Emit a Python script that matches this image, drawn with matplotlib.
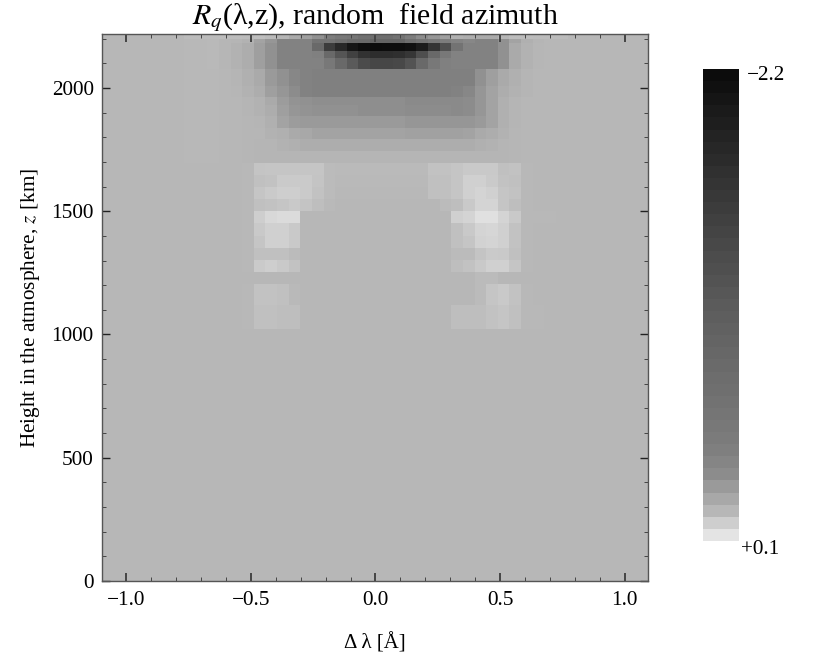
import matplotlib
matplotlib.use('Agg')
import matplotlib.pyplot as plt
import numpy as np
from matplotlib.colors import LinearSegmentedColormap
from matplotlib.ticker import MultipleLocator, FuncFormatter

plt.rcParams['font.family'] = ['Liberation Serif', 'DejaVu Serif']
plt.rcParams['mathtext.fontset'] = 'stix'

VMIN = -2.2
VMAX = 0.1
BACKGROUND = -0.02

# heights of the cell edges [km], top to bottom
z_edges = [2225, 2200, 2181, 2151, 2120, 2077, 2009, 1963, 1931, 1886, 1838, 1793, 1746,
           1694, 1646, 1599, 1550, 1501, 1451, 1400, 1352, 1302, 1252, 1204, 1120, 1022, 0]

# wavelength cell edges [A]
n_wave = 47
wave_start = -1.095
wave_step = 0.04665

# first column of the table below inside the wavelength grid
first_col = 7

# Rq in units of 0.01, one row per height cell from the top, 33 columns
rq_rows = [
    [-1.2, -1.2, -1.0, -0.7, -0.7, -1.2, -0.2, -1.4, -3, -7, -12, -18, -34, -45, -49, -62, -66, -66, -55, -34, -20, -16, -12, -5, -6, -7, -7, -3, -0.7, -0.7, -1.0, -1.2, -1.2],
    [-1.8, -1.8, -1.6, -2.5, -3, -4, -10, -16, -29, -29, -29, -55, -55, -66, -76, -76, -87, -87, -87, -66, -55, -45, -34, -29, -25, -29, -29, -18, -10, -5, -3, -2, -2],
    [-1.8, -1.8, -1.6, -2.5, -4, -6, -12, -18, -29, -29, -29, -76, -153, -183, -207, -217, -220, -219, -218, -215, -200, -165, -122, -55, -29, -29, -29, -18, -7, -4, -2.5, -2, -2],
    [-1.8, -1.8, -1.6, -2.5, -4, -6, -12, -18, -29, -29, -29, -31, -76, -114, -145, -168, -175, -175, -172, -162, -125, -76, -45, -29, -29, -29, -29, -18, -7, -4, -2.5, -2, -2],
    [-1.8, -1.8, -1.6, -2.5, -4, -6, -12, -18, -29, -29, -29, -29, -45, -76, -106, -130, -138, -138, -134, -118, -76, -45, -31, -29, -29, -29, -29, -18, -7, -4, -2.5, -2, -2],
    [-1.8, -1.8, -1.7, -2, -3, -5, -7, -14, -18, -25, -29] + [-31] * 14 + [-18, -12, -7, -5, -3, -2, -2, -2],
    [-1.8, -1.8, -1.7, -2, -2.5, -4, -6, -12, -16, -20, -29] + [-31] * 12 + [-29, -25, -16, -10, -6, -4, -3, -2, -2, -2],
    [-1.8, -1.8, -1.7, -2, -2, -3, -4, -7, -13, -17, -18] + [-19] * 8 + [-22] * 5 + [-20, -16, -10, -5, -3, -2, -2, -2, -2],
    [-1.8, -1.8, -1.7, -2, -2, -3, -4, -6, -12, -16, -17, -18, -18, -18, -18, -19, -19, -19, -19, -20, -20, -20, -20, -22, -20, -16, -10, -5, -3, -2, -2, -2, -2],
    [-1.8, -1.8, -1.7, -2, -2, -2.5, -3, -5, -10, -13] + [-14] * 9 + [-16] * 6 + [-14, -10, -5, -3, -2, -2, -2, -2],
    [-1.8, -1.8, -1.7, -2, -2, -2.5, -2.5, -4, -5, -7, -8] + [-10] * 8 + [-11] * 5 + [-10, -7, -6, -4, -2.5, -2, -2, -2, -2],
    [-1.9, -1.9, -1.8, -2, -2, -2.5, -3, -3, -4, -5] + [-6] * 15 + [-5, -4, -3, -2.5, -2, -2, -2, -2],
    [-1.9, -1.9, -1.9, -2, -2, -2.5] + [-3] * 22 + [-2.5, -2, -2, -2, -2],
    [-2, -2, -2, -2, -2, -1.8, 1.3, 1.9, 1.9, 1.9, 1.9, 1.9, -1.2] + [-1.4] * 8 + [1.0, 1.0, 1.9, 2.6, 2.6, 2.6, 0.3, 1.0, -1.8, -2, -2, -2],
    [-2, -2, -2, -2, -2, -1.8, 0.3, 1.0, 3.1, 3.1, 3.1, 1.3, -1.2] + [-1.6] * 8 + [0.3, 0.3, 1.9, 4.75, 4.75, 3.1, 1.0, 0.3, -1.8, -2, -2, -2],
    [-2, -2, -2, -2, -2, -1.8, 1.9, 3.1, 4.25, 4.25, 3.1, 1.0, -1.2] + [-1.8] * 8 + [0.3, 0.3, 1.9, 4.75, 5.75, 4.75, 1.9, 1.0, -1.8, -2, -2, -2],
    [-2, -2, -2, -2, -2, -1.8, 0.3, 1.0, 1.9, 2.6, 1.3, -0.2, -1.6] + [-2] * 9 + [-1.2, -0.2, 2.6, 5.75, 5.75, 1.9, -0.2, -1.8, -2, -2, -2],
    [-2, -2, -2, -2, -2, -1.8, 4.0, 6.75, 7.75, 7.75] + [-2] * 13 + [4.75, 5.75, 8.75, 8.75, 5.75, 2.6, -1.8, -1.9, -1.9, -2],
    [-2, -2, -2, -2, -2, -1.8, 2.6, 4.75, 4.75, 2.6] + [-2] * 13 + [0.3, 2.6, 5.75, 6.25, 4.75, 1.0, -1.8, -2, -2, -2],
    [-2, -2, -2, -2, -2, -1.8, 1.9, 4.75, 4.75, 2.6] + [-2] * 13 + [0.3, 1.9, 5.25, 5.75, 4.75, 1.0, -1.8, -2, -2, -2],
    [-2, -2, -2, -2, -2, -1.8, 0.3, 0.3, 0.3, -1.2] + [-2] * 13 + [-1.2, -1.2, 1.3, 3.1, 2.6, 0.3, -1.8, -2, -2, -2],
    [-2, -2, -2, -2, -2, -1.8, 3.1, 4.25, 2.6, 0.8] + [-2] * 13 + [-0.2, 0.8, 2.6, 4.75, 4.75, 1.9, -1.8, -2, -2, -2],
    [-2] * 25 + [-1.2, -1.2] + [-2] * 6,
    [-2, -2, -2, -2, -2, -1.9, 0.8, 0.8, 0.3, -1.6] + [-2] * 15 + [-1.2, 1.9, 2.6, 0.8, -1.9, -2, -2, -2],
    [-2, -2, -2, -2, -2, -1.9, 0.3, 0.3, -0.2, -0.2] + [-2] * 13 + [-0.2, -0.2, -0.2, 0.8, 1.9, 0.3, -1.9, -1.9, -2, -2],
]

# colour bar shades
bar_values = [-2.2, -1.9, -1.61, -1.3, -0.98, -0.55, -0.34, -0.2, -0.07, -0.02, 0.04, 0.1]
bar_grays = [12, 35, 55, 75, 95, 115, 125, 140, 170, 183, 205, 228]
n_bar = 39

x_major = [-1.0, -0.5, 0.0, 0.5, 1.0]
y_major = [0, 500, 1000, 1500, 2000]

stops = [((v - VMIN) / (VMAX - VMIN), str(g / 255)) for v, g in zip(bar_values, bar_grays)]
cmap = LinearSegmentedColormap.from_list('rq', stops, N=1024)

wave_edges = wave_start + wave_step * np.arange(n_wave + 1)
grid = np.full((len(z_edges) - 1, n_wave), BACKGROUND)
for i, row in enumerate(rq_rows):
    grid[i, first_col:first_col + len(row)] = np.array(row) / 100

fig = plt.figure(figsize=(8.30, 6.69), dpi=100)
W, H = 830, 669
ax = fig.add_axes([102 / W, (H - 581) / H, 546 / W, 547 / H])
ax.pcolormesh(wave_edges, z_edges, grid, cmap=cmap, vmin=VMIN, vmax=VMAX,
              shading='flat', rasterized=True)
ax.set_xlim(-1.098, 1.094)
ax.set_ylim(0, 2219)

ax.xaxis.set_major_formatter(FuncFormatter(lambda v, p: f"{v:.1f}".replace('-', '\u2212')))
ax.set_xticks(x_major)
ax.set_yticks(y_major)
ax.xaxis.set_minor_locator(MultipleLocator(0.1))
ax.yaxis.set_minor_locator(MultipleLocator(100))
ax.tick_params(axis='x', which='major', direction='in', top=True, bottom=True, length=6.0,
               width=1.4, color='#444444', labelsize=15.3, pad=7)
ax.tick_params(axis='y', which='major', direction='in', left=True, right=True, length=6.0,
               width=1.0, color='#222222', labelsize=15.3, pad=6)
ax.tick_params(axis='both', which='minor', direction='in', top=True, bottom=True, left=True,
               right=True, length=3.2, width=0.7, color='#444444')
for s in ax.spines.values():
    s.set_color('#555555')
    s.set_linewidth(1.0)

ax.set_title('$R_q$(\u03bb,z), random  field azimuth', fontsize=21.5, pad=6)
ax.set_xlabel('\u0394 \u03bb [\u00c5]', fontsize=15, labelpad=16.5)
ax.set_ylabel('Height in the atmosphere, $z$ [km]', fontsize=15.3, labelpad=7)

# colour bar, darkest step at the top
cax = fig.add_axes([703 / W, (H - 541) / H, 36 / W, 472 / H])
bar_levels = np.linspace(VMIN, VMAX, n_bar).reshape(-1, 1)
cax.pcolormesh([0, 1], np.arange(n_bar + 1), bar_levels, cmap=cmap, vmin=VMIN, vmax=VMAX)
cax.set_xlim(0, 1)
cax.set_ylim(n_bar, 0)
cax.axis('off')
fig.text(747 / W, (H - 76) / H, '\u22122.2', fontsize=15.3, va='center', ha='left')
fig.text(741 / W, (H - 549) / H, '+0.1', fontsize=15.3, va='center', ha='left')

fig.savefig('out.png', dpi=100)
